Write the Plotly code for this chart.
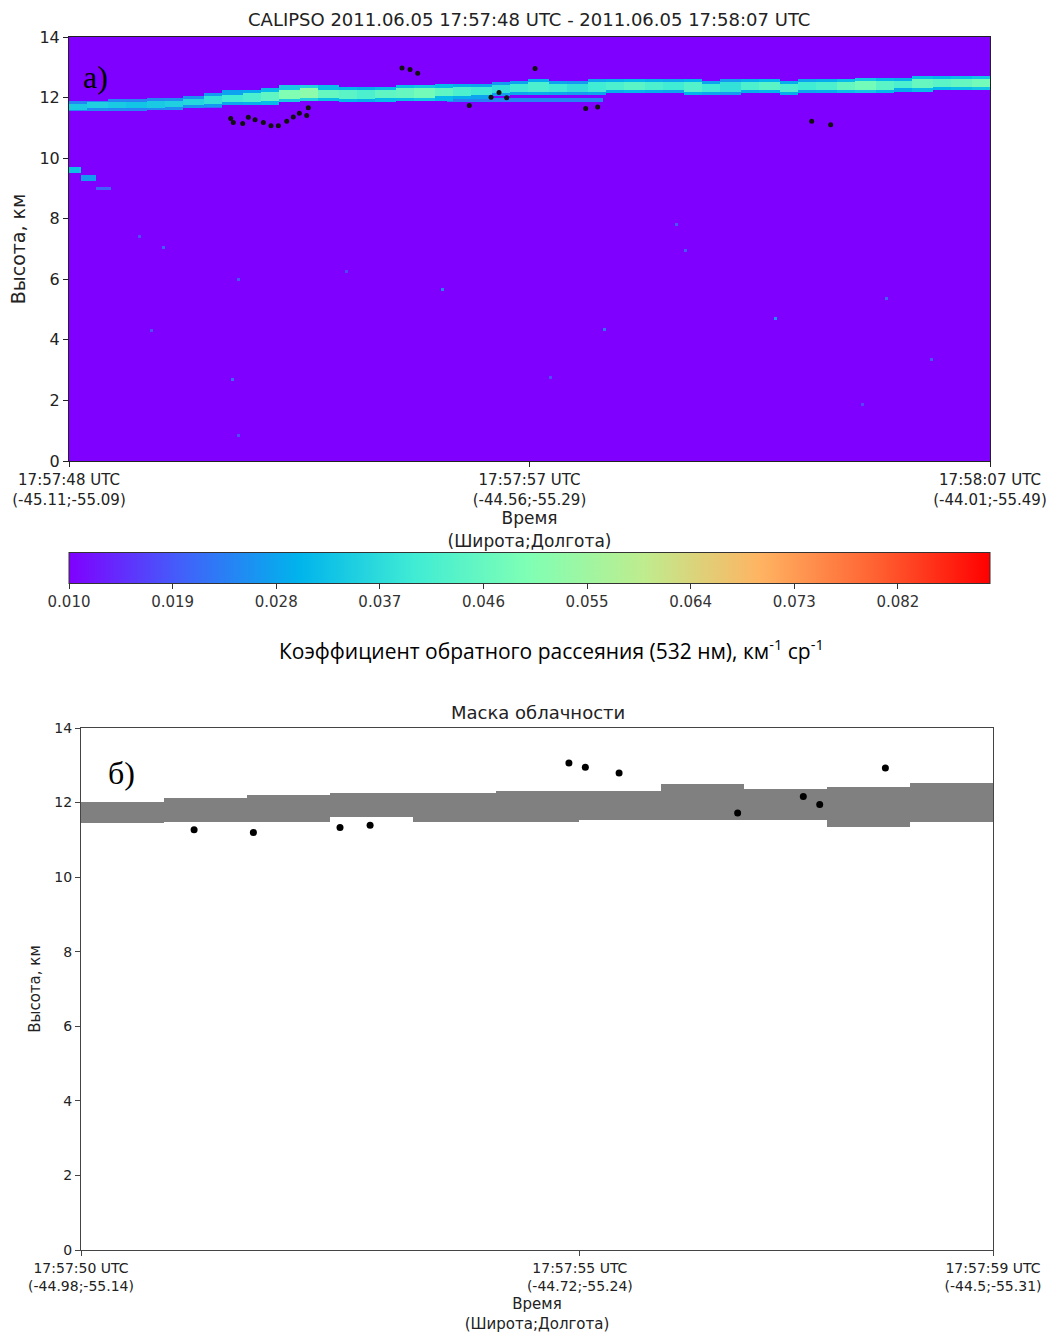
import numpy as np
import plotly.graph_objects as go

# ---------------- data: panel a) backscatter (CALIPSO) ----------------
top_tickvals = [0.0, 0.5, 1.0]
top_ticktext = ["17:57:48 UTC<br>(-45.11;-55.09)",
                "17:57:57 UTC<br>(-44.56;-55.29)",
                "17:58:07 UTC<br>(-44.01;-55.49)"]

# cloud band, one value per 1/48 of the track
band_center = [11.72, 11.73, 11.74, 11.76, 11.78, 11.80, 11.85, 11.93, 11.98, 12.00,
               12.03, 12.12, 12.15, 12.13, 12.10, 12.10, 12.12, 12.15, 12.16, 12.18,
               12.20, 12.22, 12.28, 12.33, 12.35, 12.33, 12.32, 12.35, 12.36, 12.37,
               12.37, 12.36, 12.35, 12.33, 12.35, 12.36, 12.37, 12.34, 12.36, 12.38,
               12.38, 12.40, 12.40, 12.42, 12.45, 12.46, 12.47, 12.48]
band_half = [0.19, 0.19, 0.19, 0.19, 0.20, 0.20, 0.22, 0.23, 0.25, 0.26,
             0.27, 0.27, 0.26, 0.25, 0.25, 0.25, 0.25, 0.25, 0.26, 0.26,
             0.25, 0.25, 0.24, 0.24, 0.24, 0.24, 0.23, 0.23, 0.23, 0.23,
             0.23, 0.23, 0.23, 0.23, 0.23, 0.23, 0.23, 0.23, 0.23, 0.23,
             0.23, 0.23, 0.23, 0.23, 0.23, 0.23, 0.23, 0.23]
band_peak = [0.034, 0.035, 0.034, 0.033, 0.034, 0.035, 0.036, 0.038, 0.040, 0.042,
             0.045, 0.050, 0.052, 0.046, 0.044, 0.042, 0.045, 0.046, 0.048, 0.045,
             0.042, 0.040, 0.038, 0.040, 0.042, 0.040, 0.038, 0.040, 0.042, 0.044,
             0.042, 0.040, 0.043, 0.040, 0.038, 0.042, 0.044, 0.042, 0.040, 0.042,
             0.046, 0.048, 0.044, 0.042, 0.046, 0.044, 0.046, 0.048]

# weaker layers: x start, x end, centre height (km), half thickness (km), value
layer_x0 = [0.115, 0.410, 0.000, 0.012, 0.028]
layer_x1 = [0.165, 0.580, 0.012, 0.028, 0.045]
layer_h = [11.70, 11.93, 9.60, 9.35, 9.00]
layer_half = [0.06, 0.09, 0.10, 0.08, 0.05]
layer_val = [0.022, 0.024, 0.032, 0.027, 0.020]

# isolated faint returns
speck_x = [0.404, 0.768, 0.581, 0.178, 0.104, 0.888, 0.659, 0.671, 0.183, 0.088,
           0.183, 0.937, 0.075, 0.524, 0.300, 0.860]
speck_h = [5.61, 4.66, 4.31, 2.68, 7.00, 5.32, 7.75, 6.94, 5.98, 4.27,
           0.83, 3.34, 7.36, 2.70, 6.20, 1.80]
speck_v = [0.024, 0.026, 0.022, 0.021, 0.020, 0.020, 0.019, 0.019, 0.019, 0.018,
           0.018, 0.019, 0.018, 0.018, 0.017, 0.017]

# black points on panel a)
pa_x = [0.1756, 0.1784, 0.1886, 0.1947, 0.2020, 0.2110, 0.2193, 0.2273, 0.2364, 0.2435,
        0.2501, 0.2581, 0.2598, 0.3616, 0.3703, 0.3786, 0.4346, 0.4582, 0.4669, 0.4752,
        0.5060, 0.5610, 0.5740, 0.8064, 0.8270]
pa_h = [11.31, 11.18, 11.14, 11.35, 11.27, 11.18, 11.07, 11.07, 11.22, 11.36,
        11.48, 11.41, 11.66, 12.98, 12.93, 12.80, 11.74, 12.01, 12.17, 11.99,
        12.96, 11.64, 11.69, 11.22, 11.10]

cb_tickvals = [0.010, 0.019, 0.028, 0.037, 0.046, 0.055, 0.064, 0.073, 0.082]
cb_min, cb_max = 0.010, 0.090

# ---------------- data: panel б) cloud mask ----------------
bot_tickvals = [0.0, 0.547, 1.0]
bot_ticktext = ["17:57:50 UTC<br>(-44.98;-55.14)",
                "17:57:55 UTC<br>(-44.72;-55.24)",
                "17:57:59 UTC<br>(-44.5;-55.31)"]
mask_x0 = [0.0000, 0.0909, 0.1818, 0.2727, 0.3636, 0.4545, 0.5455, 0.6364, 0.7273, 0.8182, 0.9091]
mask_x1 = [0.0909, 0.1818, 0.2727, 0.3636, 0.4545, 0.5455, 0.6364, 0.7273, 0.8182, 0.9091, 1.0000]
mask_top = [12.01, 12.13, 12.20, 12.26, 12.26, 12.31, 12.31, 12.50, 12.37, 12.43, 12.53]
mask_bot = [11.45, 11.48, 11.48, 11.60, 11.48, 11.48, 11.53, 11.53, 11.53, 11.35, 11.48]

pb_x = [0.124, 0.189, 0.284, 0.317, 0.535, 0.553, 0.590, 0.720, 0.792, 0.810, 0.882]
pb_h = [11.27, 11.20, 11.33, 11.39, 13.06, 12.95, 12.79, 11.72, 12.16, 11.95, 12.93]

# ---------------- build the backscatter grid ----------------
NX, NY = 307, 280
xc = (np.arange(NX) + 0.5) / NX
yc = (np.arange(NY) + 0.5) * 14.0 / NY
Z = np.full((NY, NX), cb_min)
nb = len(band_center)
for j, xv in enumerate(xc):
    k = min(int(xv * nb), nb - 1)
    d = np.abs(yc - band_center[k])
    hw = band_half[k]
    edge = d <= hw
    core = d <= 0.55 * hw
    Z[edge, j] = cb_min + 0.6 * (band_peak[k] - cb_min)
    Z[core, j] = band_peak[k]
for x0, x1, h, hw, v in zip(layer_x0, layer_x1, layer_h, layer_half, layer_val):
    cols = (xc >= x0) & (xc < x1)
    rows = np.abs(yc - h) <= hw
    sub = Z[np.ix_(rows, cols)]
    Z[np.ix_(rows, cols)] = np.maximum(sub, v)
for sx, sh, sv in zip(speck_x, speck_h, speck_v):
    j = int(sx * NX)
    i = int(sh / 14.0 * NY)
    Z[i:i + 2, j] = sv

rainbow = [[0.0, "#8000ff"], [0.125, "#4062fa"], [0.25, "#00b4ec"], [0.375, "#40ecd4"],
           [0.5, "#80ffb4"], [0.625, "#bfec8e"], [0.75, "#ffb462"], [0.875, "#ff6232"],
           [1.0, "#ff0000"]]

W, H = 1052, 1336
fig = go.Figure()

fig.add_trace(go.Heatmap(
    x=xc, y=yc, z=Z, zmin=cb_min, zmax=cb_max, colorscale=rainbow,
    xaxis="x", yaxis="y", zsmooth=False, hoverinfo="skip",
    colorbar=dict(orientation="h", x=(69 + 990) / 2 / W, xanchor="center",
                  y=1 - 581.5 / H, yanchor="middle", len=921 / W, lenmode="fraction",
                  thickness=31, xpad=0, ypad=0, outlinewidth=1, outlinecolor="#333333",
                  tickvals=cb_tickvals, ticktext=[f"{v:.3f}" for v in cb_tickvals],
                  ticks="outside", ticklen=5, tickcolor="#333333",
                  tickfont=dict(family="DejaVu Sans", size=15, color="#333333"))))

fig.add_trace(go.Scatter(x=pa_x, y=pa_h, mode="markers", xaxis="x", yaxis="y",
                         marker=dict(color="#111111", size=5), showlegend=False,
                         hoverinfo="skip"))

fig.add_trace(go.Bar(x=[(a + b) / 2 for a, b in zip(mask_x0, mask_x1)],
                     width=[b - a for a, b in zip(mask_x0, mask_x1)],
                     y=[t - b for t, b in zip(mask_top, mask_bot)], base=mask_bot,
                     marker=dict(color="#808080", line=dict(width=0)),
                     xaxis="x2", yaxis="y2", showlegend=False, hoverinfo="skip"))

fig.add_trace(go.Scatter(x=pb_x, y=pb_h, mode="markers", xaxis="x2", yaxis="y2",
                         marker=dict(color="#000000", size=7), showlegend=False,
                         hoverinfo="skip"))

axis_common = dict(showgrid=False, zeroline=False, ticks="outside", ticklen=5,
                   mirror=True, showline=True, automargin=False)

fig.update_layout(
    width=W, height=H, margin=dict(l=0, r=0, t=0, b=0),
    paper_bgcolor="white", plot_bgcolor="white", showlegend=False, bargap=0,
    xaxis=dict(domain=[69 / W, 990 / W], range=[0, 1], anchor="y",
               tickvals=top_tickvals, ticktext=top_ticktext, linecolor="#222222",
               tickcolor="#222222",
               tickfont=dict(family="DejaVu Sans", size=15, color="#222222"),
               title=dict(text="Время<br>(Широта;Долгота)", standoff=4,
                          font=dict(family="DejaVu Sans", size=17, color="#222222")),
               **axis_common),
    yaxis=dict(domain=[1 - 461 / H, 1 - 37 / H], range=[0, 14], anchor="x",
               tickvals=[0, 2, 4, 6, 8, 10, 12, 14], linecolor="#222222",
               tickcolor="#222222",
               tickfont=dict(family="DejaVu Sans", size=16, color="#222222"),
               title=dict(text="Высота, км", standoff=8,
                          font=dict(family="DejaVu Sans", size=19, color="#222222")),
               **axis_common),
    xaxis2=dict(domain=[81 / W, 993 / W], range=[0, 1], anchor="y2",
                tickvals=bot_tickvals, ticktext=bot_ticktext, linecolor="#444444",
                tickcolor="#444444",
                tickfont=dict(family="DejaVu Sans", size=14, color="#222222"),
                title=dict(text="Время<br>(Широта;Долгота)", standoff=5,
                           font=dict(family="DejaVu Sans", size=15, color="#222222")),
                **axis_common),
    yaxis2=dict(domain=[1 - 1250 / H, 1 - 728 / H], range=[0, 14], anchor="x2",
                tickvals=[0, 2, 4, 6, 8, 10, 12, 14], linecolor="#444444",
                tickcolor="#444444",
                tickfont=dict(family="DejaVu Sans", size=14, color="#222222"),
                title=dict(text="Высота, км", standoff=10,
                           font=dict(family="DejaVu Sans", size=15, color="#222222")),
                **axis_common),
    annotations=[
        dict(text="CALIPSO 2011.06.05 17:57:48 UTC - 2011.06.05 17:58:07 UTC",
             x=529 / W, y=1 - 20 / H, xref="paper", yref="paper", showarrow=False,
             xanchor="center", yanchor="middle",
             font=dict(family="DejaVu Sans", size=18, color="#222222")),
        dict(text="а)", x=81 / W, y=1 - 77 / H, xref="paper", yref="paper",
             showarrow=False, xanchor="left", yanchor="middle",
             font=dict(family="Liberation Serif", size=32, color="#000000")),
        dict(text="Коэффициент обратного рассеяния (532 нм), км<sup>-1</sup> ср<sup>-1</sup>",
             x=551 / W, y=1 - 650 / H, xref="paper", yref="paper", showarrow=False,
             xanchor="center", yanchor="middle",
             font=dict(family="Open Sans", size=21, color="#000000")),
        dict(text="Маска облачности", x=538 / W, y=1 - 712 / H, xref="paper",
             yref="paper", showarrow=False, xanchor="center", yanchor="middle",
             font=dict(family="DejaVu Sans", size=18, color="#222222")),
        dict(text="б)", x=106 / W, y=1 - 773 / H, xref="paper", yref="paper",
             showarrow=False, xanchor="left", yanchor="middle",
             font=dict(family="Liberation Serif", size=32, color="#000000")),
    ],
)

fig.write_html("out.html")
